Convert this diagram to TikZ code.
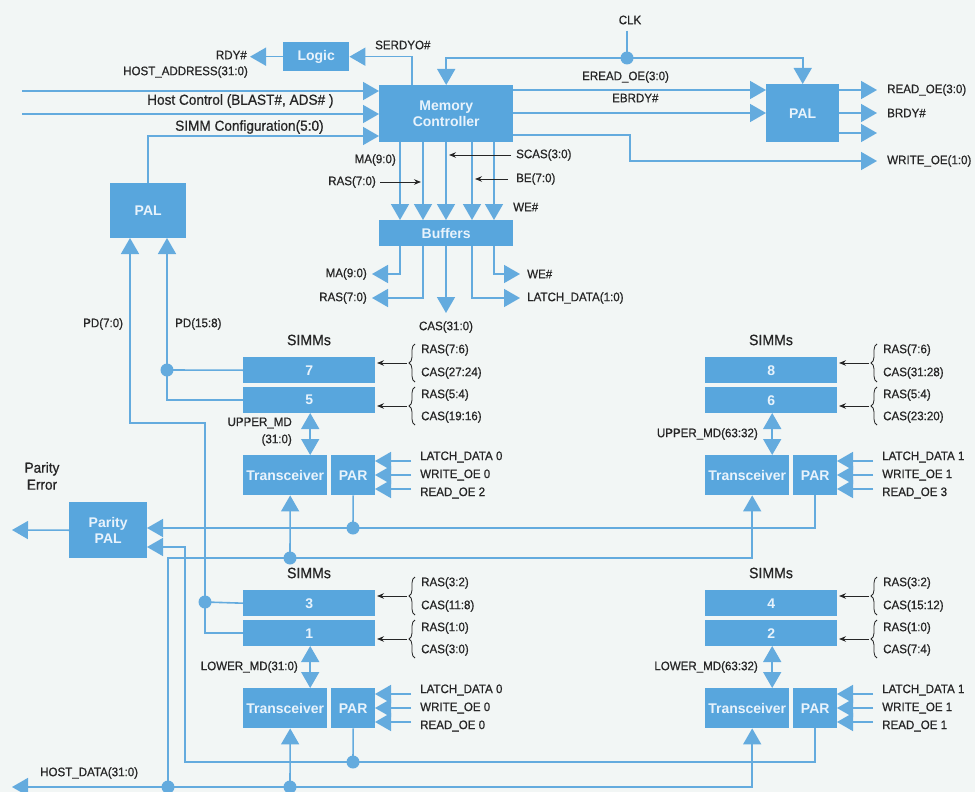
\documentclass[tikz,border=0pt]{standalone}
\usepackage{fontspec}
\setmainfont{Liberation Sans}
\newfontfamily\labfont{Liberation Sans}[FakeBold=0.7,FakeStretch=0.94]
\usetikzlibrary{arrows.meta,decorations.pathreplacing}
\definecolor{bfill}{RGB}{88,166,221}
\definecolor{bline}{RGB}{100,171,222}
\definecolor{btext}{RGB}{232,243,252}
\definecolor{ink}{RGB}{38,38,38}
\definecolor{bgc}{RGB}{242,246,245}
\tikzset{
  ar/.style={-{Triangle[length=16pt,width=18pt]}},
  ra/.style={{Triangle[length=16pt,width=18pt]}-},
  arr/.style={{Triangle[length=16pt,width=18pt]}-{Triangle[length=16pt,width=18pt]}},
  box/.style={fill=bfill, draw=none, inner sep=0pt, text=btext, font=\fontsize{14}{16.5}\selectfont\bfseries, align=center, anchor=north west},
  bl/.style={draw=bline, line width=1.6pt},
  blk/.style={draw=ink, line width=0.9pt, -{Stealth[length=7pt,width=5.5pt]}},
  lab/.style={text=ink, font=\labfont\fontsize{12.3}{14}\selectfont, inner sep=0pt},
  big/.style={text=ink, font=\labfont\fontsize{14.5}{17}\selectfont, inner sep=0pt, align=center},
  brc/.style={draw=ink, line width=0.8pt, decorate, decoration={brace, amplitude=6pt}},
}
\newcommand\hpbox[6]{\node[box, minimum width={(#4-#2)*1pt}, minimum height={(#5-#3)*1pt}] (#1) at (#2,#3) {#6};}
\newcommand\dotat[1]{\fill[bline] (#1) circle (6.5pt);}
\newcommand\simms[9]{%
  \node[box, minimum width=132pt, minimum height=26pt] (#5a) at (243+#1,357+#2) {#3};
  \node[box, minimum width=132pt, minimum height=26pt] (#5b) at (243+#1,387+#2) {#4};
  \node[text=ink, font=\labfont\fontsize{15}{17}\selectfont, inner sep=0pt] (#5s) at (309+#1,340+#2) {SIMMs};
  \draw[brc] (415+#1,382+#2) -- (415+#1,344+#2);
  \draw[brc] (415+#1,425+#2) -- (415+#1,387+#2);
  \draw[blk] (407+#1,363+#2) -- (377+#1,363+#2);
  \draw[blk] (407+#1,406+#2) -- (377+#1,406+#2);
  \node[lab,anchor=west] (#5l1) at (421+#1,350+#2) {#6};
  \node[lab,anchor=west] (#5l2) at (421+#1,373+#2) {#7};
  \node[lab,anchor=west] (#5l3) at (421+#1,395+#2) {#8};
  \node[lab,anchor=west] (#5l4) at (421+#1,417+#2) {#9};
}
\newcommand\xcvr[6]{%
  \node[box, minimum width=84pt, minimum height=40pt] (#3t) at (243+#1,455+#2) {Transceiver};
  \node[box, minimum width=44pt, minimum height=40pt] (#3p) at (331+#1,455+#2) {PAR};
  \draw[bl,ar] (411+#1,461+#2) -- (375+#1,461+#2);
  \draw[bl,ar] (411+#1,475+#2) -- (375+#1,475+#2);
  \draw[bl,ar] (411+#1,489+#2) -- (375+#1,489+#2);
  \node[lab,anchor=west] (#3q1) at (420+#1,457+#2) {#4};
  \node[lab,anchor=west] (#3q2) at (420+#1,475+#2) {#5};
  \node[lab,anchor=west] (#3q3) at (420+#1,493+#2) {#6};
  \draw[bl,arr] ([xshift=25pt]#3t.north) -- ++(0,-42);
}
\begin{document}
\begin{tikzpicture}[x=1pt,y=-1pt]
\useasboundingbox (0,0) rectangle (975,792);
\fill[bgc] (0,0) rectangle (975,792);

% boxes
\hpbox{logic}{283}{42}{349}{71}{Logic}
\hpbox{mc}{379}{85}{513}{142}{Memory\\Controller}
\hpbox{palr}{766}{84}{839}{142}{PAL}
\hpbox{pall}{110}{183}{186}{238}{PAL}
\hpbox{buf}{379}{220}{513}{246}{Buffers}
\hpbox{ppal}{69}{502}{147}{558}{Parity\\PAL}

\simms{0}{0}{7}{5}{ul}{RAS(7:6)}{CAS(27:24)}{RAS(5:4)}{CAS(19:16)}
\simms{462}{0}{8}{6}{ur}{RAS(7:6)}{CAS(31:28)}{RAS(5:4)}{CAS(23:20)}
\simms{0}{233}{3}{1}{ll}{RAS(3:2)}{CAS(11:8)}{RAS(1:0)}{CAS(3:0)}
\simms{462}{233}{4}{2}{lr}{RAS(3:2)}{CAS(15:12)}{RAS(1:0)}{CAS(7:4)}
\xcvr{0}{0}{ul}{LATCH\_DATA 0}{WRITE\_OE 0}{READ\_OE 2}
\xcvr{462}{0}{ur}{LATCH\_DATA 1}{WRITE\_OE 1}{READ\_OE 3}
\xcvr{0}{233}{ll}{LATCH\_DATA 0}{WRITE\_OE 0}{READ\_OE 0}
\xcvr{462}{233}{lr}{LATCH\_DATA 1}{WRITE\_OE 1}{READ\_OE 1}

% CLK
\node[lab] (clk) at (630,20) {CLK};
\coordinate (clkd) at (627,58);
\draw[bl] (627,31) -- (clkd);
\draw[bl,ar] (clkd) -| (mc.north);
\draw[bl,ar] (clkd) -| (palr.north);
\dotat{clkd}

% SERDYO / RDY
\coordinate (serd) at (412,85);
\draw[bl,ar] (serd) |- (logic.east);
\node[lab,anchor=west] (lserd) at (375,45) {SERDYO\#};
\draw[bl,ar] (logic.west) -- ++(-33,0) coordinate (rdy);
\node[lab,anchor=east] (lrdy) at (247,55) {RDY\#};

% host inputs
\coordinate (ha) at (22,91);
\draw[bl,ar] (ha) -- (ha -| mc.west);
\node[lab,anchor=west] (lha) at (123,72) {HOST\_ADDRESS(31:0)};
\coordinate (hc) at (22,114);
\draw[bl,ar] (hc) -- (hc -| mc.west);
\node[big,anchor=west] (lhc) at (147,101) {Host Control (BLAST\#, ADS\# )};
\coordinate (sc) at (379,136);
\draw[bl,ar] (pall.north) |- (sc);
\node[big,anchor=west] (lsc) at (175,127) {SIMM Configuration(5:0)};

% MC right side
\coordinate (e1) at (513,90);
\draw[bl,ar] (e1) -- (e1 -| palr.west);
\node[lab,anchor=west] (le1) at (582,77) {EREAD\_OE(3:0)};
\coordinate (e2) at (513,113);
\draw[bl,ar] (e2) -- (e2 -| palr.west);
\node[lab,anchor=west] (le2) at (612,98) {EBRDY\#};
\coordinate (e3) at (513,135);
\coordinate (wo) at (877,161);
\draw[bl,ar] (e3) -- (630,135) |- (wo);
\node[lab,anchor=west] (lwo) at (887,161) {WRITE\_OE(1:0)};
\foreach \yy in {90,113,133} \draw[bl,ar] (839,\yy) -- (877,\yy);
\node[lab,anchor=west] (lro) at (887,90) {READ\_OE(3:0)};
\node[lab,anchor=west] (lbr) at (887,113) {BRDY\#};

% MC to buffers
\foreach \xx in {400,423,446,472,494} \draw[bl,ar] (\xx,142) -- (\xx,220);
\node[lab,anchor=east] (lma1) at (396,160) {MA(9:0)};
\node[lab,anchor=east] (lras1) at (376,182) {RAS(7:0)};
\draw[blk] (380,182) -- (421,182);
\node[lab,anchor=west] (lscas) at (516,155) {SCAS(3:0)};
\draw[blk] (511,155) -- (449,155);
\node[lab,anchor=west] (lbe) at (516,179) {BE(7:0)};
\draw[blk] (508,179) -- (475,179);
\node[lab,anchor=west] (lwe1) at (513,207) {WE\#};

% buffers out
\draw[bl,ar] (400,246) |- (372,274);
\node[lab,anchor=east] (lma2) at (367,274) {MA(9:0)};
\draw[bl,ar] (423,246) |- (372,298);
\node[lab,anchor=east] (lras2) at (367,298) {RAS(7:0)};
\draw[bl,ar] (446,246) -- (446,313);
\node[lab] (lcas) at (446,327) {CAS(31:0)};
\draw[bl,ar] (472,246) |- (520,298);
\node[lab,anchor=west] (lld) at (527,298) {LATCH\_DATA(1:0)};
\draw[bl,ar] (494,246) |- (520,274);
\node[lab,anchor=west] (lwe2) at (527,274) {WE\#};

% PD lines
\draw[bl,ra] (167,238) |- (ulb.west);
\draw[bl] (167,370) -- (ula.west);
\dotat{167,370}
\node[lab,anchor=west] (lpd15) at (175,324) {PD(15:8)};
\draw[bl,ra] (130,238) |- (205,423) |- (llb.west);
\draw[bl] (205,602) -- (lla.west);
\dotat{205,602}
\node[lab,anchor=west] (lpd7) at (83,324) {PD(7:0)};

% MD labels
\node[lab,anchor=east] (lum1) at (292,423) {UPPER\_MD};
\node[lab,anchor=east] (lum2) at (292,440) {(31:0)};
\node[lab,anchor=east] (lum3) at (758,434) {UPPER\_MD(63:32)};
\node[lab,anchor=east] (llm1) at (298,667) {LOWER\_MD(31:0)};
\node[lab,anchor=east] (llm2) at (758,667) {LOWER\_MD(63:32)};

% parity
\draw[bl,ar] (ppal.west) -- (12,530);
\node[big] (lpe) at (42,476) {Parity\\Error};
\coordinate (pin1) at (147,528);
\draw[bl,ar] (urp.south) |- (pin1);
\draw[bl] (ulp.south) -- (353,528);
\dotat{353,528}
\coordinate (pin2) at (147,547);
\draw[bl,ar] (lrp.south) |- (185,762) |- (pin2);
\draw[bl] (llp.south) -- (353,762);
\dotat{353,762}

% transceiver data
\coordinate (hd1) at (168,787);
\draw[bl,ar] (hd1) -- (168,558) -| ([xshift=5pt]urt.south);
\draw[bl,ar] (290,558) -- ([xshift=5pt]ult.south);
\dotat{290,558}
\draw[bl,arr] ([xshift=5pt]lrt.south) |- (12,787);
\draw[bl,ar] (290,787) -- ([xshift=5pt]llt.south);
\dotat{168,787}
\dotat{290,787}
\node[lab,anchor=west] (lhd) at (40,773) {HOST\_DATA(31:0)};
\end{tikzpicture}
\end{document}
